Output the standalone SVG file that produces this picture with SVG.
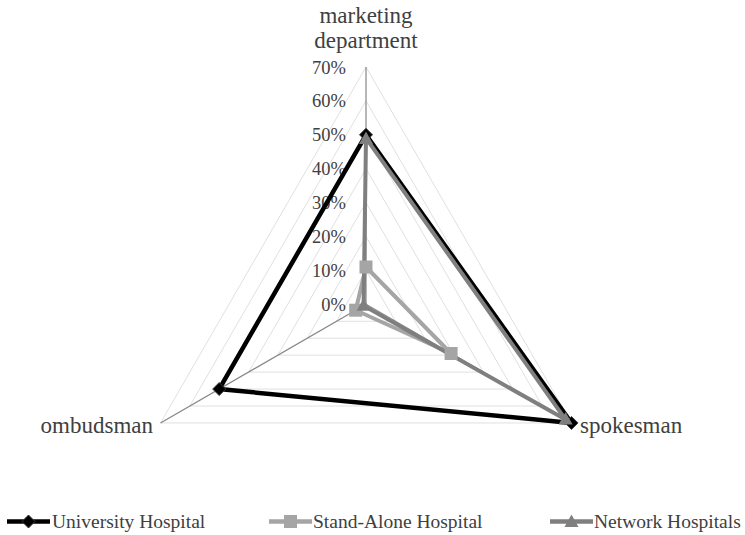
<svg xmlns="http://www.w3.org/2000/svg" xmlns:xlink="http://www.w3.org/1999/xlink" width="745" height="535" viewBox="0 0 745 535">
<style>
text{font-family:"Liberation Serif","DejaVu Serif",serif;fill:#404040}
.grid{fill:none;stroke:#e0e0e0;stroke-width:1}
.axis{stroke:#868686;stroke-width:1.2}
.tick{font-size:18.5px;text-anchor:end}
.cat{font-size:23px}
.leg{font-size:19.5px}
.s-uni{fill:none;stroke:#000;stroke-width:4.5;stroke-linejoin:miter}
.s-sa{fill:none;stroke:#a5a5a5;stroke-width:4}
.s-net{fill:none;stroke:#7f7f7f;stroke-width:4}
</style>
<defs>
<path id="mk-dia" d="M0,-6.5 L6.5,0 L0,6.5 L-6.5,0Z" fill="#000" stroke="#3a3a3a" stroke-width="1"/>
<rect id="mk-sq" x="-6.5" y="-6.5" width="13" height="13" fill="#a5a5a5"/>
<path id="mk-tri" d="M0,-7.5 L7,5 L-7,5Z" fill="#7f7f7f"/>
</defs>
<g id="grid">
<polygon class="grid" points="366,270.4 395.4,321.25 336.6,321.25"/>
<polygon class="grid" points="366,236.5 424.7,338.2 307.3,338.2"/>
<polygon class="grid" points="366,202.6 454.1,355.15 277.9,355.15"/>
<polygon class="grid" points="366,168.7 483.4,372.1 248.6,372.1"/>
<polygon class="grid" points="366,134.8 512.8,389.05 219.2,389.05"/>
<polygon class="grid" points="366,100.9 542.2,406 189.8,406"/>
<polygon class="grid" points="366,67 571.5,422.95 160.5,422.95"/>
</g>
<g id="axes">
<line class="axis" x1="366" y1="304.3" x2="366" y2="67"/>
<line class="axis" x1="366" y1="304.3" x2="571.5" y2="422.95"/>
<line class="axis" x1="366" y1="304.3" x2="160.5" y2="422.95"/>
</g>
<g id="ticks">
<text class="tick" x="346" y="310.8">0%</text>
<text class="tick" x="346" y="276.9">10%</text>
<text class="tick" x="346" y="243">20%</text>
<text class="tick" x="346" y="209.1">30%</text>
<text class="tick" x="346" y="175.2">40%</text>
<text class="tick" x="346" y="141.3">50%</text>
<text class="tick" x="346" y="107.4">60%</text>
<text class="tick" x="346" y="73.5">70%</text>
</g>
<g id="labels">
<text class="cat" x="366" y="23" text-anchor="middle">marketing</text>
<text class="cat" x="366" y="48" text-anchor="middle">department</text>
<text class="cat" x="580" y="433">spokesman</text>
<text class="cat" x="153" y="433" text-anchor="end">ombudsman</text>
</g>
<g id="connectors">
<polygon id="series-university" class="s-uni" points="366,134.8 571.5,422.95 219.2,389.05"/>
<polygon id="series-standalone" class="s-sa" points="366,267 451.1,353.5 355.7,310.2"/>
<polygon id="series-network" class="s-net" points="366,138.2 565.6,419.6 363.6,305.7"/>
</g>
<g id="markers-university">
<use xlink:href="#mk-dia" x="366" y="134.8"/>
<use xlink:href="#mk-dia" x="571.5" y="422.95"/>
<use xlink:href="#mk-dia" x="219.2" y="389.05"/>
</g>
<g id="markers-standalone">
<use xlink:href="#mk-sq" x="366" y="267"/>
<use xlink:href="#mk-sq" x="451.1" y="353.5"/>
<use xlink:href="#mk-sq" x="355.7" y="310.2"/>
</g>
<g id="markers-network">
<use xlink:href="#mk-tri" x="366" y="139"/>
<use xlink:href="#mk-tri" x="565.6" y="419.6"/>
<use xlink:href="#mk-tri" x="363.6" y="305.7"/>
</g>
<g id="legend">
<g id="legend-university">
<line x1="7" y1="521.5" x2="50" y2="521.5" stroke="#000" stroke-width="4.5"/>
<use xlink:href="#mk-dia" x="28.5" y="521.5"/>
<text class="leg" x="52" y="527.5">University Hospital</text>
</g>
<g id="legend-standalone">
<line x1="269" y1="521.5" x2="312" y2="521.5" stroke="#a5a5a5" stroke-width="4.5"/>
<use xlink:href="#mk-sq" x="290.5" y="521.5"/>
<text class="leg" x="313" y="527.5">Stand-Alone Hospital</text>
</g>
<g id="legend-network">
<line x1="550" y1="521.5" x2="593" y2="521.5" stroke="#7f7f7f" stroke-width="4.5"/>
<use xlink:href="#mk-tri" x="571.5" y="522"/>
<text class="leg" x="594" y="527.5">Network Hospitals</text>
</g>
</g>
</svg>
